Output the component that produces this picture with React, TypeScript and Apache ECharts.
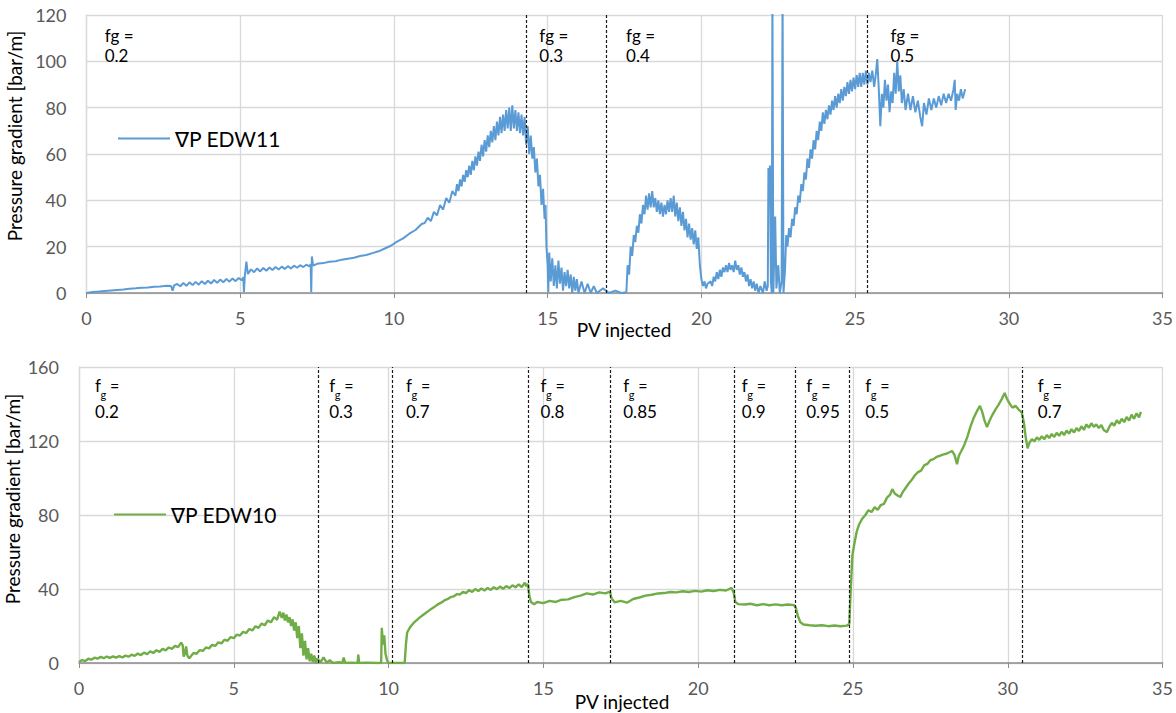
import React, { useEffect, useRef } from "react";
import * as echarts from "echarts";

const FONT = "Lato, 'DejaVu Sans', sans-serif";

// ∇P along core EDW11 vs. pore volumes injected
const edw11: [number, number][] = [
  [0,0],[0.2,0.4],[0.4,0.6],[0.6,0.9],[0.8,1.1],[1.0,1.3],[1.2,1.5],[1.4,1.8],[1.6,2.0],[1.8,2.3],[2.0,2.4],[2.2,2.7],[2.4,2.8],[2.6,3.1],[2.75,3.0],[2.8,1.0],[2.85,3.3],
  [2.95,3.9],[3.05,2.9],[3.15,4.3],[3.25,3.1],[3.35,4.6],[3.45,3.4],[3.55,4.8],[3.65,3.6],[3.75,5.1],[3.85,3.9],[3.95,5.3],[4.05,4.1],[4.15,5.6],[4.25,4.4],[4.35,5.8],[4.45,4.6],[4.55,6.1],[4.65,4.9],[4.75,6.3],[4.85,5.1],[4.95,6.5],[5.05,5.5],[5.1,6.8],[5.12,0.4],[5.15,7.5],[5.2,13.5],[5.25,8.2],
  [5.35,10.2],[5.45,9.0],[5.55,10.6],[5.65,9.3],[5.75,10.8],[5.85,9.6],[5.95,11.0],[6.05,9.9],[6.15,11.2],[6.25,10.1],[6.35,11.4],[6.45,10.4],[6.55,11.6],[6.65,10.6],[6.75,11.8],[6.85,10.9],[6.95,12.0],[7.05,11.2],[7.15,12.2],[7.25,11.5],[7.29,12.4],[7.31,0.3],[7.33,15.8],[7.37,11.8],
  [7.5,12.6],[7.7,12.9],[7.9,13.5],[8.1,13.7],[8.3,14.4],[8.5,14.8],[8.7,15.2],[8.9,16.0],[9.1,16.4],[9.3,17.2],[9.5,18.0],[9.7,19.2],[9.9,20.4],[10.1,22.2],[10.3,23.6],[10.5,25.6],[10.7,27.2],[10.9,29.8],[11.0,30.2],
  [11.1,32.5],[11.2,31.0],[11.3,35.0],[11.4,33.5],[11.5,38.0],[11.6,36.0],[11.7,41.0],[11.8,39.0],[11.9,44.0],
  [12.0,42],[12.05,47],[12.1,44],[12.15,49],[12.2,46],[12.25,51],[12.3,48],[12.35,53],[12.4,50],[12.45,55],[12.5,51],[12.55,57],[12.6,53],[12.65,59],[12.7,55],[12.75,61],[12.8,57],[12.85,64],[12.9,59],[12.95,66],[13.0,61],[13.05,68],[13.1,63],[13.15,70],[13.2,65],[13.25,72],[13.3,66],[13.35,74],[13.4,68],[13.45,76],[13.5,69],[13.55,77],[13.6,70],[13.65,79],[13.7,71],[13.75,80],[13.8,70],[13.85,81],[13.9,71],[13.95,79],[14.0,70],[14.05,78],[14.1,69],[14.15,77],[14.2,68],[14.25,76],[14.3,64],
  [14.35,72],[14.4,60],[14.45,68],[14.5,58],[14.55,63],[14.6,52],[14.65,58],[14.7,46],[14.75,51],[14.8,38],[14.85,45],[14.9,32],[14.93,38],[14.96,20],[15.0,12],[15.02,0.3],
  [15.05,17.5],[15.1,5],[15.15,15],[15.2,3],[15.25,12],[15.3,2],[15.35,14],[15.4,4],[15.45,11],[15.5,1],[15.55,9],[15.6,3],[15.65,10],[15.7,2],[15.75,8],[15.8,0],[15.85,7],[15.9,1],[15.95,6],[16.0,0],[16.1,5],[16.2,0],[16.3,4],[16.4,0],[16.5,3],[16.6,0],[16.8,2],[17.0,0],[17.2,1],[17.4,0],[17.56,0.3],
  [17.6,12],[17.65,8],[17.7,20],[17.75,16],[17.8,25],[17.85,22],[17.9,29],[17.95,26],[18.0,34],[18.05,30],[18.1,38],[18.15,34],[18.2,42],[18.25,36],[18.3,43],[18.35,37],[18.4,44],[18.45,37],[18.5,41],[18.55,35],[18.6,40],[18.65,34],[18.7,39],[18.75,33],[18.8,38],[18.85,34],[18.9,40],[18.95,35],[19.0,41],[19.05,35],[19.1,42],[19.15,33],[19.2,39],[19.25,31],[19.3,37],[19.35,29],[19.4,35],[19.45,27],[19.5,32],[19.55,24],[19.6,30],[19.65,23],[19.7,28],[19.75,21],[19.8,27],[19.85,19],[19.9,24],[19.95,12],[20.0,6],[20.05,3],[20.1,5],[20.15,2],[20.2,4],
  [20.3,5],[20.35,3],[20.4,7],[20.45,5],[20.5,9],[20.55,6],[20.6,10],[20.65,7],[20.7,11],[20.75,9],[20.8,12],[20.85,9],[20.9,13],[20.95,10],[21.0,12],[21.05,9],[21.1,14],[21.15,10],[21.2,12],[21.25,8],[21.3,11],[21.35,7],[21.4,9],[21.45,5],[21.5,8],[21.55,3],[21.6,6],[21.65,2],[21.7,5],[21.75,1],[21.8,4],[21.86,0],[21.92,3],[22.0,0],[22.06,5],[22.12,1],[22.16,3],[22.18,54],[22.21,50],[22.23,55],[22.26,5],[22.29,0],[22.31,130],[22.34,0],[22.4,33],[22.44,2],[22.5,12],[22.55,0],[22.61,5],[22.64,130],[22.67,0],
  [22.72,10],[22.76,25],[22.8,20],[22.85,28],[22.9,24],[22.95,32],[23.0,29],[23.05,37],[23.1,34],[23.15,42],[23.2,39],[23.25,47],[23.3,44],[23.35,52],[23.4,49],[23.45,58],[23.5,54],[23.55,62],[23.6,58],[23.65,66],[23.7,62],[23.75,70],[23.8,66],[23.85,74],[23.9,70],[23.95,78],[24.0,73],[24.05,79],[24.1,75],[24.15,81],[24.2,77],[24.25,83],[24.3,79],[24.35,85],[24.4,80],[24.45,86],[24.5,82],[24.55,88],[24.6,83],[24.65,89],[24.7,85],[24.75,91],[24.8,86],[24.85,92],[24.9,87],[24.95,93],[25.0,88],[25.05,94],[25.1,89],[25.15,95],[25.2,89],[25.25,95],[25.3,90],[25.35,96],[25.4,90],[25.45,95],[25.5,91],[25.56,96],[25.62,89],[25.67,94],[25.72,101],[25.77,88],[25.82,72],[25.87,86],[25.92,80],[25.97,92],[26.02,83],[26.07,90],[26.12,78],[26.17,87],[26.22,82],[26.27,95],[26.32,86],[26.37,100],[26.42,87],[26.47,94],[26.52,82],[26.58,88],[26.64,79],[26.72,86],[26.8,79],[26.88,85],[26.96,78],[27.04,83],[27.12,76],[27.18,72],[27.24,82],[27.32,77],[27.4,84],[27.48,79],[27.56,84],[27.64,80],[27.72,85],[27.8,81],[27.88,86],[27.96,82],[28.04,86],[28.12,83],[28.2,88],[28.24,92],[28.27,79],[28.32,86],[28.38,83],[28.44,88],[28.5,84],[28.58,88],
];

// ∇P along core EDW10 vs. pore volumes injected
const edw10: [number, number][] = [
  [0,0.5],[0.1,1.6],[0.2,1.0],[0.3,2.3],[0.4,1.8],[0.5,2.9],[0.6,2.3],[0.7,3.3],[0.8,2.6],[0.9,3.5],[1.0,2.8],[1.1,3.6],[1.2,2.9],[1.3,3.7],[1.4,3.0],[1.5,4.0],[1.6,3.4],[1.7,4.5],[1.8,3.9],[1.9,5.1],[2.0,4.3],[2.1,5.6],[2.2,4.8],[2.3,6.3],[2.4,5.4],[2.5,6.9],[2.6,6.0],[2.7,7.6],[2.8,6.8],[2.9,8.4],[3.0,7.6],[3.1,9.3],[3.2,8.6],[3.3,11.0],[3.35,9.5],[3.38,3.5],[3.42,5.0],[3.46,9.0],[3.5,4.0],[3.56,2.5],[3.62,3.8],
  [3.7,5.4],[3.8,5.0],[3.9,7.0],[4.0,6.5],[4.1,8.4],[4.2,7.9],[4.3,9.8],[4.4,9.2],[4.5,11.2],[4.6,10.6],[4.7,12.6],[4.8,12.0],[4.9,14.0],[5.0,13.4],[5.1,15.4],[5.2,14.8],[5.3,16.9],[5.4,16.2],[5.5,18.4],[5.6,17.6],[5.7,19.9],[5.8,19.0],[5.9,21.4],[6.0,20.4],[6.1,23.0],[6.2,22.0],[6.3,24.8],[6.4,23.4],[6.48,27.8],[6.55,24.4],[6.6,27.2],[6.65,23.0],[6.7,26.2],[6.75,22.0],[6.8,24.8],[6.85,20.0],[6.9,23.6],[6.95,17.5],[7.0,22.0],[7.05,13.5],[7.1,20.0],[7.15,8.0],[7.2,16.0],[7.25,4.0],[7.3,12.0],[7.35,2.0],[7.4,8.0],[7.45,1.0],[7.5,5.0],[7.55,0.5],[7.6,4.0],[7.65,0],[7.7,2.5],[7.8,0.4],[7.9,3.0],[8.0,0.2],[8.1,1.5],[8.2,0],[8.4,0.4],[8.5,0],[8.55,3.0],[8.6,0],[8.8,0.2],[9.0,0],[9.02,4.5],[9.05,0],[9.3,0.2],[9.6,0],[9.76,0],[9.78,19.0],[9.82,10.0],[9.86,15.0],[9.9,5.0],[9.95,1.5],[10.0,0],[10.3,0],[10.52,0],
  [10.56,10],[10.6,16.5],[10.7,19.5],[10.8,21.5],[10.9,23.0],[11.0,24.5],[11.1,25.8],[11.2,27.0],[11.3,28.3],[11.4,29.5],[11.5,30.6],[11.6,31.8],[11.7,32.6],[11.8,33.8],[11.9,34.5],[12.0,35.6],[12.1,36.0],[12.2,37.2],[12.3,37.0],[12.4,38.4],[12.5,37.8],[12.6,39.4],[12.7,38.4],[12.8,40.0],[12.9,38.9],[13.0,40.3],[13.1,39.2],[13.2,40.6],[13.3,39.5],[13.4,41.0],[13.5,39.9],[13.6,41.3],[13.7,40.1],[13.8,41.6],[13.9,40.5],[14.0,42.0],[14.1,40.9],[14.2,42.5],[14.3,41.1],[14.4,43.4],[14.45,41.5],[14.5,42.8],[14.55,36.0],[14.6,33.0],[14.7,31.8],[14.8,33.0],[15.0,32.4],[15.2,33.6],[15.4,33.0],[15.6,34.2],[15.8,34.4],[16.0,35.6],[16.2,36.4],[16.4,37.6],[16.6,37.0],[16.8,38.2],[17.0,37.6],[17.15,38.6],[17.2,35.0],[17.3,32.8],[17.5,33.6],[17.7,32.6],[17.9,34.6],[18.1,35.4],[18.3,36.4],[18.5,36.9],[18.7,37.6],[18.9,37.8],[19.1,38.4],[19.3,38.2],[19.5,38.8],[19.7,38.4],[19.9,39.0],[20.1,38.6],[20.3,39.3],[20.5,38.9],[20.7,39.5],[20.9,39.2],[21.08,40.6],[21.15,38.0],[21.2,33.0],[21.3,31.8],[21.5,31.6],[21.7,32.0],[21.9,31.2],[22.1,31.8],[22.3,31.2],[22.5,31.7],[22.7,31.2],[22.9,31.6],[23.1,31.3],[23.16,29.5],[23.22,25.5],[23.3,22.0],[23.4,20.8],[23.6,20.4],[23.8,20.1],[24.0,20.4],[24.2,19.9],[24.4,20.3],[24.6,19.9],[24.8,20.2],[24.88,21.0],
  [24.93,40],[24.98,58],[25.05,65],[25.12,71],[25.2,75],[25.3,78],[25.4,80],[25.5,82.6],[25.6,81.6],[25.7,84.2],[25.8,82.8],[25.9,85.4],[26.0,86.0],[26.1,89.4],[26.2,91.0],[26.27,94.0],[26.35,91.6],[26.45,90.4],[26.53,89.8],[26.6,92.2],[26.7,94.6],[26.8,97.0],[26.9,99.0],[27.0,101.5],[27.1,103.2],[27.2,104.0],[27.3,106.8],[27.4,107.6],[27.5,109.6],[27.6,110.2],[27.7,111.4],[27.8,112.0],[27.9,112.6],[28.0,113.0],[28.1,113.8],[28.2,114.6],[28.28,112.5],[28.36,107.5],[28.42,112.0],[28.5,114.6],[28.6,118.0],[28.7,122.5],[28.8,128.0],[28.9,132.5],[29.0,136.0],[29.1,139.0],[29.17,136.0],[29.25,131.0],[29.33,127.5],[29.4,130.5],[29.5,134.0],[29.6,137.0],[29.7,139.5],[29.8,142.5],[29.9,146.0],[29.97,143.0],[30.05,140.5],[30.15,138.0],[30.25,139.0],[30.35,137.0],[30.45,135.5],[30.52,130.0],[30.58,122.0],[30.64,116.0],
  [30.7,119.0],[30.78,121.0],[30.86,119.8],[30.94,122.0],[31.02,120.6],[31.1,122.6],[31.18,121.0],[31.26,123.2],[31.34,121.6],[31.42,123.8],[31.5,122.2],[31.58,124.4],[31.66,122.8],[31.74,125.0],[31.82,123.2],[31.9,125.6],[31.98,124.0],[32.06,126.4],[32.14,124.6],[32.22,127.0],[32.3,125.4],[32.38,128.0],[32.46,126.0],[32.54,129.0],[32.62,127.2],[32.7,129.6],[32.78,127.6],[32.86,129.0],[32.94,127.0],[33.02,128.6],[33.1,126.0],[33.2,124.8],[33.28,127.6],[33.36,129.8],[33.44,128.2],[33.52,131.2],[33.6,129.4],[33.68,132.0],[33.76,130.2],[33.84,133.0],[33.92,131.0],[34.0,134.2],[34.08,132.0],[34.16,135.0],[34.24,132.8],[34.3,135.8],
];

// Gas-fraction changes (PV injected) and the fg value of each stage
const edw11Switches = [14.31, 16.89, 25.4];
const edw11FgX = [0.59, 14.73, 17.55, 26.15];
const edw11FgText = ["0.2", "0.3", "0.4", "0.5"];

const edw10Switches = [7.74, 10.12, 14.52, 17.17, 21.15, 23.15, 24.89, 30.46];
const edw10FgX = [0.52, 8.08, 10.56, 14.91, 17.58, 21.41, 23.49, 25.4, 30.97];
const edw10FgText = ["0.2", "0.3", "0.7", "0.8", "0.85", "0.9", "0.95", "0.5", "0.7"];

const xMax = 35;
const xStep = 5;
const yMaxTop = 120;
const yStepTop = 20;
const yMaxBottom = 160;
const yStepBottom = 40;

const NAME11 = "∇P EDW11";
const NAME10 = "∇P EDW10";
const BLUE = "#5b9bd5";
const GREEN = "#70ad47";

export default function App() {
  const ref = useRef<HTMLDivElement>(null);

  useEffect(() => {
    if (!ref.current) return;
    const chart = echarts.init(ref.current, null, { renderer: "svg" });

    const gridLine = { show: true, lineStyle: { color: "#d9d9d9", width: 1.3 } };
    const xAxisBase = {
      type: "value" as const,
      min: 0,
      max: xMax,
      interval: xStep,
      axisLine: { show: true, lineStyle: { color: "#8c8c8c", width: 1.5 } },
      axisTick: { show: true, length: 5, lineStyle: { color: "#8c8c8c", width: 1 } },
      axisLabel: { color: "#595959", fontSize: 18, fontFamily: FONT, margin: 16 },
      splitLine: gridLine,
    };
    const yAxisBase = {
      type: "value" as const,
      min: 0,
      axisLine: { show: true, lineStyle: { color: "#d9d9d9", width: 1.3 } },
      axisTick: { show: false },
      axisLabel: { color: "#595959", fontSize: 18, fontFamily: FONT, margin: 20 },
      splitLine: gridLine,
    };
    const switchLines = (xs: number[]) => ({
      silent: true,
      symbol: ["none", "none"],
      label: { show: false },
      lineStyle: { color: "#1a1a1a", type: [3, 2], width: 1.2 },
      data: xs.map((x) => ({ xAxis: x })),
    });
    const legendBase = {
      icon: "rect",
      itemWidth: 52,
      itemHeight: 2,
      textStyle: { color: "#000", fontSize: 21, fontFamily: FONT },
    };

    chart.setOption({
      animation: false,
      backgroundColor: "#fff",
      grid: [
        { left: 86.5, top: 15, width: 1079.5, height: 278 },
        { left: 79, top: 367, width: 1087, height: 296 },
      ],
      xAxis: [
        { ...xAxisBase, gridIndex: 0 },
        { ...xAxisBase, gridIndex: 1 },
      ],
      yAxis: [
        { ...yAxisBase, gridIndex: 0, max: yMaxTop, interval: yStepTop },
        { ...yAxisBase, gridIndex: 1, max: yMaxBottom, interval: yStepBottom },
      ],
      legend: [
        { ...legendBase, data: [NAME11], left: 113, top: 123 },
        { ...legendBase, data: [NAME10], left: 109, top: 499 },
      ],
      series: [
        {
          type: "line",
          name: NAME11,
          xAxisIndex: 0,
          yAxisIndex: 0,
          data: edw11,
          symbol: "none",
          clip: true,
          lineStyle: { color: BLUE, width: 2 },
          itemStyle: { color: BLUE },
          markLine: switchLines(edw11Switches),
        },
        {
          type: "line",
          name: NAME10,
          xAxisIndex: 1,
          yAxisIndex: 1,
          data: edw10,
          symbol: "none",
          clip: true,
          lineStyle: { color: GREEN, width: 2.4 },
          itemStyle: { color: GREEN },
          markLine: switchLines(edw10Switches),
        },
      ],
    });

    const txt = (x: number, y: number, text: string, size: number) => ({
      type: "text",
      x,
      y,
      silent: true,
      style: {
        text,
        fill: "#000",
        fontSize: size,
        fontFamily: FONT,
        textAlign: "left",
        textVerticalAlign: "middle",
      },
    });

    const graphics: any[] = [];
    edw11FgX.forEach((v, i) => {
      const px = chart.convertToPixel({ xAxisIndex: 0 }, v) as number;
      graphics.push(txt(px, 35, "fg =", 17));
      graphics.push(txt(px, 55, edw11FgText[i], 17));
    });
    edw10FgX.forEach((v, i) => {
      const px = chart.convertToPixel({ xAxisIndex: 1 }, v) as number;
      graphics.push(txt(px, 385, "f", 17));
      graphics.push(txt(px + 5.5, 394, "g", 11));
      graphics.push(txt(px + 15, 385, "=", 16));
      graphics.push(txt(px, 411, edw10FgText[i], 17));
    });

    // axis titles
    const title = (x: number, y: number, text: string, rotation = 0) => ({
      type: "text",
      x,
      y,
      rotation,
      silent: true,
      style: {
        text,
        fill: "#000",
        fontSize: 19,
        fontFamily: FONT,
        textAlign: "center",
        textVerticalAlign: "middle",
      },
    });
    graphics.push(title(14, 136, "Pressure gradient [bar/m]", Math.PI / 2));
    graphics.push(title(12, 499, "Pressure gradient [bar/m]", Math.PI / 2));
    graphics.push(title(624, 329, "PV injected"));
    graphics.push(title(622, 701, "PV injected"));

    chart.setOption({ graphic: graphics });

    return () => chart.dispose();
  }, []);

  return (
    <div
      ref={ref}
      style={{ position: "fixed", left: 0, top: 0, width: 1176, height: 713, background: "#fff" }}
    />
  );
}
